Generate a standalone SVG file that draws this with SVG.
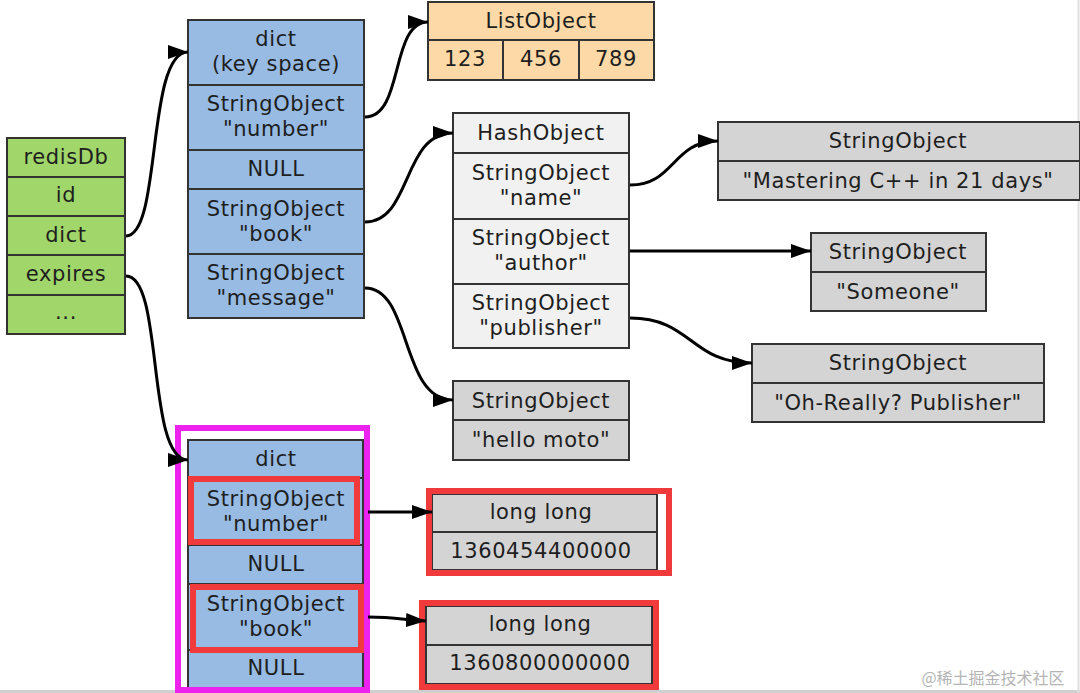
<svg xmlns="http://www.w3.org/2000/svg" width="1080" height="693" viewBox="0 0 1080 693">
<defs>
<marker id="ah" viewBox="0 0 20 14" refX="20" refY="7" markerWidth="20" markerHeight="14" markerUnits="userSpaceOnUse" orient="auto">
<path d="M0,0 L20,7 L0,14 z" fill="#000"/>
</marker>
<style>
text{font-family:"DejaVu Sans","Open Sans",sans-serif;font-size:21px;letter-spacing:0.6px;fill:#1e1e1e;text-anchor:middle;dominant-baseline:central}
tspan{dominant-baseline:central}
.c{stroke:#333;stroke-width:2}
.g{fill:#a0d66a}
.b{fill:#97bbe3}
.o{fill:#fcd9a6}
.w{fill:#f1f1f1}
.s{fill:#d4d4d4}
.e{fill:none;stroke:#000;stroke-width:3}
.hl{fill:none;stroke:#f03a3c;stroke-width:6}
</style>
</defs>
<rect width="1080" height="693" fill="#fff"/>
<line x1="0" y1="691.5" x2="1080" y2="691.5" stroke="#d0d0d0" stroke-width="3"/>
<line x1="1078.5" y1="0" x2="1078.5" y2="693" stroke="#e0e0e0" stroke-width="2"/>

<g id="redisDb">
<rect class="c g" x="7" y="138" width="118" height="196"/>
<line class="c" x1="7" y1="177" x2="125" y2="177"/>
<line class="c" x1="7" y1="216" x2="125" y2="216"/>
<line class="c" x1="7" y1="255" x2="125" y2="255"/>
<line class="c" x1="7" y1="295" x2="125" y2="295"/>
<text x="66" y="157">redisDb</text>
<text x="66" y="195">id</text>
<text x="66" y="235">dict</text>
<text x="66" y="274">expires</text>
<text x="66" y="312">...</text>
</g>

<g id="dict-keyspace">
<rect class="c b" x="188" y="20" width="176" height="298"/>
<line class="c" x1="188" y1="85" x2="364" y2="85"/>
<line class="c" x1="188" y1="150" x2="364" y2="150"/>
<line class="c" x1="188" y1="189" x2="364" y2="189"/>
<line class="c" x1="188" y1="254" x2="364" y2="254"/>
<text x="276" y="39">dict<tspan x="276" dy="25">(key space)</tspan></text>
<text x="276" y="104">StringObject<tspan x="276" dy="25">"number"</tspan></text>
<text x="276" y="169">NULL</text>
<text x="276" y="209">StringObject<tspan x="276" dy="25">"book"</tspan></text>
<text x="276" y="273">StringObject<tspan x="276" dy="25">"message"</tspan></text>
</g>

<g id="ListObject">
<rect class="c o" x="428" y="2" width="226" height="78"/>
<line class="c" x1="428" y1="40" x2="654" y2="40"/>
<line class="c" x1="503" y1="40" x2="503" y2="80"/>
<line class="c" x1="579" y1="40" x2="579" y2="80"/>
<text x="541" y="21">ListObject</text>
<text x="465" y="59">123</text>
<text x="541" y="59">456</text>
<text x="616" y="59">789</text>
</g>

<g id="HashObject">
<rect class="c w" x="453" y="113" width="176" height="235"/>
<line class="c" x1="453" y1="153" x2="629" y2="153"/>
<line class="c" x1="453" y1="219" x2="629" y2="219"/>
<line class="c" x1="453" y1="284" x2="629" y2="284"/>
<text x="541" y="133">HashObject</text>
<text x="541" y="173">StringObject<tspan x="541" dy="25">"name"</tspan></text>
<text x="541" y="238">StringObject<tspan x="541" dy="25">"author"</tspan></text>
<text x="541" y="303">StringObject<tspan x="541" dy="25">"publisher"</tspan></text>
</g>

<g id="str-mastering">
<rect class="c s" x="718" y="122" width="362" height="78"/>
<line class="c" x1="718" y1="161" x2="1080" y2="161"/>
<text x="898" y="141">StringObject</text>
<text x="898" y="181">"Mastering C++ in 21 days"</text>
</g>

<g id="str-someone">
<rect class="c s" x="811" y="233" width="175" height="78"/>
<line class="c" x1="811" y1="272" x2="986" y2="272"/>
<text x="898" y="252">StringObject</text>
<text x="898" y="292">"Someone"</text>
</g>

<g id="str-publisher">
<rect class="c s" x="752" y="344" width="292" height="78"/>
<line class="c" x1="752" y1="383" x2="1044" y2="383"/>
<text x="898" y="363">StringObject</text>
<text x="898" y="403">"Oh-Really? Publisher"</text>
</g>

<g id="str-hello">
<rect class="c s" x="453" y="381" width="176" height="79"/>
<line class="c" x1="453" y1="420" x2="629" y2="420"/>
<text x="541" y="401">StringObject</text>
<text x="541" y="440">"hello moto"</text>
</g>

<g id="dict-expires">
<rect class="c b" x="188" y="440" width="175" height="252"/>
<line class="c" x1="188" y1="478" x2="363" y2="478"/>
<line class="c" x1="188" y1="545" x2="363" y2="545"/>
<line class="c" x1="188" y1="584" x2="363" y2="584"/>
<line class="c" x1="188" y1="650" x2="363" y2="650"/>
<text x="276" y="459">dict</text>
<text x="276" y="499">StringObject<tspan x="276" dy="25">"number"</tspan></text>
<text x="276" y="564">NULL</text>
<text x="276" y="604">StringObject<tspan x="276" dy="25">"book"</tspan></text>
<text x="276" y="668">NULL</text>
<rect class="hl" x="191" y="479" width="166" height="63"/>
<rect class="hl" x="193" y="587" width="168" height="63"/>
<rect x="178" y="428" width="189" height="262" fill="none" stroke="#ee22ee" stroke-width="6"/>
</g>

<g id="longlong-1">
<rect class="c s" x="432" y="494" width="225" height="76"/>
<line class="c" x1="432" y1="532" x2="657" y2="532"/>
<text x="541" y="512">long long</text>
<text x="541" y="551">1360454400000</text>
<rect class="hl" x="429" y="491" width="240" height="82"/>
</g>

<g id="longlong-2">
<rect class="c s" x="426" y="606" width="226" height="78"/>
<line class="c" x1="426" y1="645" x2="652" y2="645"/>
<text x="540" y="624">long long</text>
<text x="540" y="663">1360800000000</text>
<rect class="hl" x="422" y="603" width="234" height="84"/>
</g>

<g id="connectors">
<path class="e" marker-end="url(#ah)" d="M126,236 C162,236 146,52 188,52"/>
<path class="e" marker-end="url(#ah)" d="M126,276 C164,276 146,460 188,460"/>
<path class="e" marker-end="url(#ah)" d="M365,117 C404,117 390,22 428,22"/>
<path class="e" marker-end="url(#ah)" d="M365,222 C412,222 402,133 453,133"/>
<path class="e" marker-end="url(#ah)" d="M365,288 C412,288 400,400 453,400"/>
<path class="e" marker-end="url(#ah)" d="M630,185 C675,185 672,141 718,141"/>
<path class="e" marker-end="url(#ah)" d="M630,251 L811,251"/>
<path class="e" marker-end="url(#ah)" d="M630,318 C692,318 690,363 752,363"/>
<path class="e" marker-end="url(#ah)" d="M368,512 L432,512"/>
<path class="e" marker-end="url(#ah)" d="M368,617 C395,617 405,620 426,621"/>
</g>

<text x="993" y="677" style="font-family:'Noto Sans CJK SC',sans-serif;font-size:16px;letter-spacing:0;fill:#b4b4b4">@稀土掘金技术社区</text>
</svg>
